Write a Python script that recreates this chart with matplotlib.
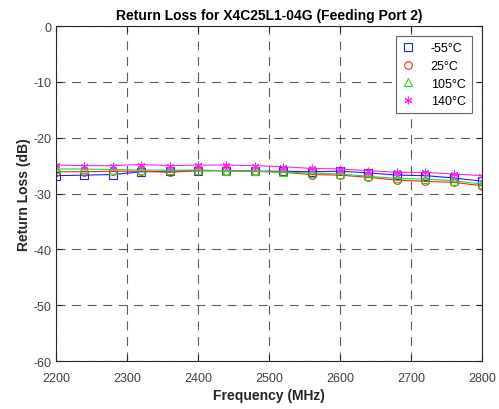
import matplotlib
matplotlib.use("Agg")
import matplotlib.pyplot as plt
from matplotlib.lines import Line2D

plt.rcParams["font.family"] = ["Liberation Sans", "DejaVu Sans"]
plt.rcParams["axes.unicode_minus"] = False

freq = [2200, 2240, 2280, 2320, 2360, 2400, 2440, 2480,
        2520, 2560, 2600, 2640, 2680, 2720, 2760, 2800]

rl_m55 = [-26.8, -26.7, -26.6, -26.1, -26.0, -25.9, -25.9, -26.0,
          -26.0, -26.1, -26.0, -26.3, -26.7, -26.8, -27.2, -27.8]
rl_25 = [-26.1, -26.1, -26.0, -26.0, -26.2, -25.9, -25.9, -26.0,
         -26.2, -26.6, -26.7, -27.1, -27.6, -27.8, -28.0, -28.6]
rl_105 = [-25.6, -25.6, -25.7, -25.8, -25.8, -25.8, -25.9, -26.0,
          -26.2, -26.3, -26.5, -26.9, -27.3, -27.4, -27.7, -28.3]
rl_140 = [-24.9, -25.0, -25.0, -24.8, -25.0, -24.9, -24.9, -25.0,
          -25.2, -25.5, -25.6, -25.9, -26.2, -26.2, -26.5, -26.8]

labels = ["-55°C", "25°C", "105°C", "140°C"]
series = [rl_m55, rl_25, rl_105, rl_140]
colors = ["#2020FF", "#FF2020", "#20DD20", "#FF20FF"]
markers = ["s", "o", "^", (6, 2, 0)]

fig = plt.figure(figsize=(4.99, 4.10), dpi=100)
ax = fig.add_axes([0.1122, 0.117, 0.8538, 0.817])

for vals, c, m in zip(series, colors, markers):
    ax.plot(freq, vals, color=c, lw=0.8, marker=m, ms=5.5,
            mfc="none", mec=c, mew=0.8)

ax.set_xlim(2200, 2800)
ax.set_ylim(-60, 0)
ax.set_xticks(range(2200, 2801, 100))
ax.set_yticks(range(-60, 1, 10))
ax.tick_params(direction="in", labelsize=9, length=4, top=True, right=True,
               labelcolor="#404040", color="#262626")
ax.tick_params(axis="x", pad=8)
ax.tick_params(axis="y", pad=3)
ax.grid(True, color="#262626", linestyle=(0, (8, 6)), lw=0.8, alpha=0.75)
for s in ax.spines.values():
    s.set_linewidth(0.8)
    s.set_color("#262626")

ax.set_title("Return Loss for X4C25L1-04G (Feeding Port 2)", fontsize=10,
             fontweight="bold", pad=5)
ax.set_xlabel("Frequency (MHz)", fontsize=10, fontweight="bold", labelpad=3,
              color="#262626")
ax.set_ylabel("Return Loss (dB)", fontsize=10, fontweight="bold", labelpad=2,
              color="#262626")

handles = [Line2D([], [], ls="none", marker=m, color=c, mfc="none", mec=c,
                  ms=5.5, mew=0.8) for c, m in zip(colors, markers)]
leg = ax.legend(handles, labels, loc="upper right", fontsize=9,
                fancybox=False, edgecolor="#666666", framealpha=1,
                handlelength=1.0, handletextpad=1.3, borderaxespad=0.8,
                labelspacing=0.45, borderpad=0.5)
leg.get_frame().set_linewidth(0.8)

fig.savefig("out.png", dpi=100)
